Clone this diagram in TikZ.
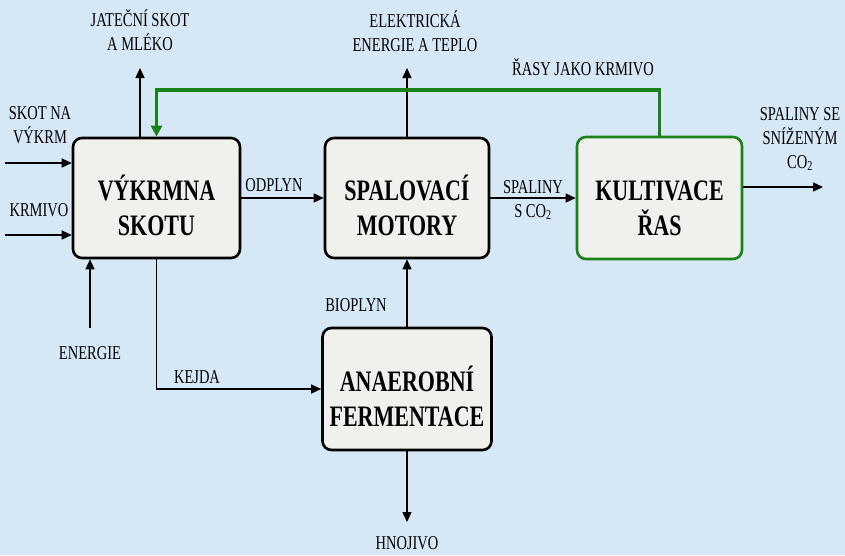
\documentclass[tikz,border=0pt]{standalone}
\usepackage{fontspec}
\setmainfont{Liberation Serif}
\usepackage{tikz}
\usetikzlibrary{arrows.meta,positioning}
\definecolor{bgblue}{RGB}{214,231,245}
\definecolor{boxfill}{RGB}{240,240,236}
\definecolor{algagreen}{RGB}{25,130,25}
\newcommand{\tallline}[1]{\scalebox{1}[1.35]{#1}}
\newcommand{\boxlines}[2]{\rule{0pt}{40pt}\tallline{#1}\\\tallline{#2}}

\begin{document}
\begin{tikzpicture}[x=1pt,y=-1pt,
    block/.style={draw, line width=2.6pt, rounded corners=9pt, fill=boxfill,
                  align=center, inner sep=0pt,
                  font=\fontsize{22}{35}\selectfont\bfseries},
    flow/.style={-{Triangle[length=10pt,width=9pt]}, line width=1.4pt},
    lbl/.style={align=center, inner sep=0pt, font=\fontsize{14.5}{24}\selectfont}]
  \fill[bgblue] (0,0) rectangle (845,555);

  % processes
  \node[block, minimum width=167pt, minimum height=120pt] (vykrm) at (156.5,198) {\boxlines{VÝKRMNA}{SKOTU}};
  \node[block, minimum width=164pt, minimum height=120pt] (spal) at (407,198) {\boxlines{SPALOVACÍ}{MOTORY}};
  \node[block, draw=algagreen, minimum width=165pt, minimum height=122pt] (kult) at (659.5,198) {\boxlines{KULTIVACE}{ŘAS}};
  \node[block, minimum width=169pt, minimum height=122pt] (anaer) at (407,389) {\boxlines{ANAEROBNÍ}{FERMENTACE}};

  % free ends
  \coordinate (skotin) at (5,163);
  \coordinate (krmin) at (5,235);
  \coordinate (jatout) at (140,68);
  \coordinate (enin) at (90,328);
  \coordinate (elout) at (407,68);
  \coordinate (hnout) at (407,522);
  \coordinate (spout) at (823,187);
  \coordinate (rasyloop) at (400,90);

  % connectors
  \draw[flow] (skotin) -- (vykrm.west |- skotin);
  \draw[flow] (krmin) -- (vykrm.west |- krmin);
  \draw[flow] (vykrm.north -| jatout) -- (jatout);
  \draw[flow] (enin) -- (vykrm.south -| enin);
  \draw[flow] (vykrm.south) |- (anaer.west);
  \draw[flow] (vykrm.east) -- (spal.west);
  \draw[flow] (spal.north) -- (elout);
  \draw[flow] (anaer.north) -- (spal.south);
  \draw[flow] (anaer.south) -- (hnout);
  \draw[flow] (spal.east) -- (kult.west);
  \draw[flow] (kult.east |- spout) -- (spout);
  \draw[algagreen, line width=3.6pt, -{Triangle[length=11pt,width=11pt]}]
    (kult.north) |- (rasyloop) -| (vykrm.north);

  % labels
  \node[lbl] (jatlbl) at (140,30.5) {\tallline{JATEČNÍ SKOT}\\\tallline{A MLÉKO}};
  \node[lbl] (skotlbl) at (40,125) {\tallline{SKOT NA}\\\tallline{VÝKRM}};
  \node[lbl] (krmlbl) at (39,210) {\tallline{KRMIVO}};
  \node[lbl] (enlbl) at (90,353) {\tallline{ENERGIE}};
  \node[lbl] (kejdalbl) at (197,377) {\tallline{KEJDA}};
  \node[lbl] (biolbl) at (356,305) {\tallline{BIOPLYN}};
  \node[lbl] (hnlbl) at (407,543) {\tallline{HNOJIVO}};
  \node[lbl] (odplbl) at (274,185) {\tallline{ODPLYN}};
  \node[lbl] (ellbl) at (415,31.5) {\tallline{ELEKTRICKÁ}\\\tallline{ENERGIE A TEPLO}};
  \node[lbl] (rasylbl) at (583,67) {\tallline{ŘASY JAKO KRMIVO}};
  \node[lbl] (spallbl) at (533,200) {\tallline{SPALINY}\\\tallline{S CO\textsubscript{2}}};
  \node[lbl] (splbl) at (800,139) {\tallline{SPALINY SE}\\\tallline{SNÍŽENÝM}\\\tallline{CO\textsubscript{2}}};
\end{tikzpicture}
\end{document}
